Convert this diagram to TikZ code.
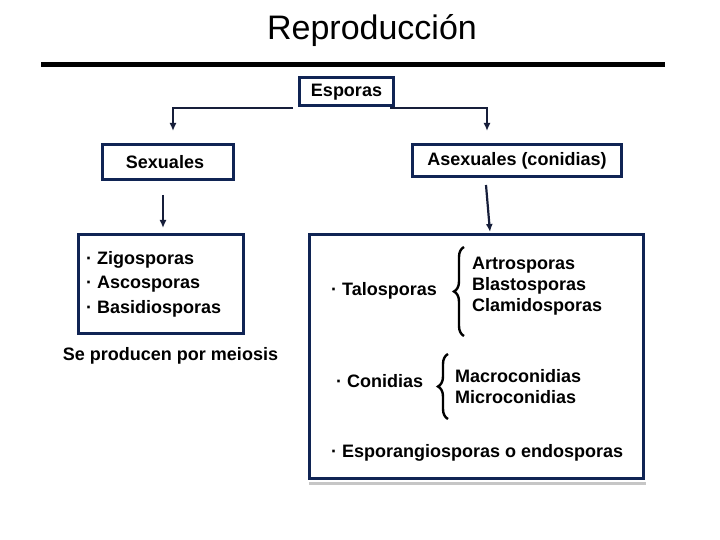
\documentclass[tikz,border=0pt]{standalone}
\usepackage{fontspec}
\setmainfont{Liberation Sans}
\usetikzlibrary{arrows.meta,decorations.pathreplacing}
\definecolor{navy}{RGB}{16,36,84}
\definecolor{connc}{RGB}{22,30,58}
\tikzset{
  box/.style={draw=navy,line width=3pt,inner sep=0pt,font=\bfseries\fontsize{18}{21}\selectfont},
  txt/.style={inner sep=0pt,font=\bfseries\fontsize{18}{21}\selectfont,align=left,anchor=west},
  conn/.style={draw=connc,line width=2pt,-{Latex[length=8pt,width=7pt]}},
  brc/.style={draw=black,line width=2.4pt,decorate,decoration={brace,amplitude=10pt,raise=0pt}}
}
\newcommand{\bul}{·\ }
\begin{document}
\begin{tikzpicture}[x=1pt,y=-1pt]
\useasboundingbox (0,0) rectangle (720,540);
\fill[white] (0,0) rectangle (720,540);
% title
\node[inner sep=0pt,font=\fontsize{34}{40}\selectfont] (title) at (372,31) {Reproducción};
\coordinate (ruleL) at (41,65);
\coordinate (ruleR) at (665,65);
\draw[line width=5pt,black] (ruleL) -- (ruleR);
% boxes
\node[box,minimum width=94pt,minimum height=28pt] (esp) at (346.5,92) {Esporas};
\node[box,minimum width=131pt,minimum height=35pt] (sex) at (168,162) {\hspace*{-6pt}Sexuales};
\node[box,minimum width=209pt,minimum height=32pt] (asex) at (517,160.5) {Asexuales (conidias)};
\node[box,minimum width=165pt,minimum height=99pt] (left) at (161,284) {};
\fill[gray!45] (309,481.5) rectangle (646,485);
\node[box,minimum width=334pt,minimum height=244pt] (big) at (476.5,356.5) {};
% connectors
\coordinate (eL) at (293,108);
\coordinate (eR) at (390,108);
\coordinate (aSex) at (173,131);
\coordinate (aAsex) at (487,131);
\draw[conn] (eL) -| (aSex);
\draw[conn] (eR) -| (aAsex);
\coordinate (s1) at (163,195);
\coordinate (s2) at (163,228);
\draw[conn] (s1) -- (s2);
\coordinate (a1) at (486,185);
\coordinate (a2) at (490,232);
\draw[conn,line width=2.2pt] (a1) -- (a2);
% left box content
\node[txt,font=\bfseries\fontsize{18}{24.5}\selectfont] (sexlist) at (86,284) {\bul Zigosporas\\\bul Ascosporas\\\bul Basidiosporas};
\node[inner sep=0pt,font=\bfseries\fontsize{18}{21}\selectfont] (meiosis) at (170.5,356) {Se producen por meiosis};
% big box content
\node[txt] (talo) at (331,291) {\bul Talosporas};
\coordinate (b1a) at (464,336);
\coordinate (b1b) at (464,247);
\draw[brc] (b1a) -- (b1b);
\node[txt] (talolist) at (472,286) {Artrosporas\\Blastosporas\\Clamidosporas};
\node[txt] (coni) at (336,381) {\bul Conidias};
\coordinate (b2a) at (448,419);
\coordinate (b2b) at (448,354);
\draw[brc] (b2a) -- (b2b);
\node[txt] (conilist) at (455,386.5) {Macroconidias\\Microconidias};
\node[txt] (espo) at (331,453) {\bul Esporangiosporas o endosporas};
\end{tikzpicture}
\end{document}
